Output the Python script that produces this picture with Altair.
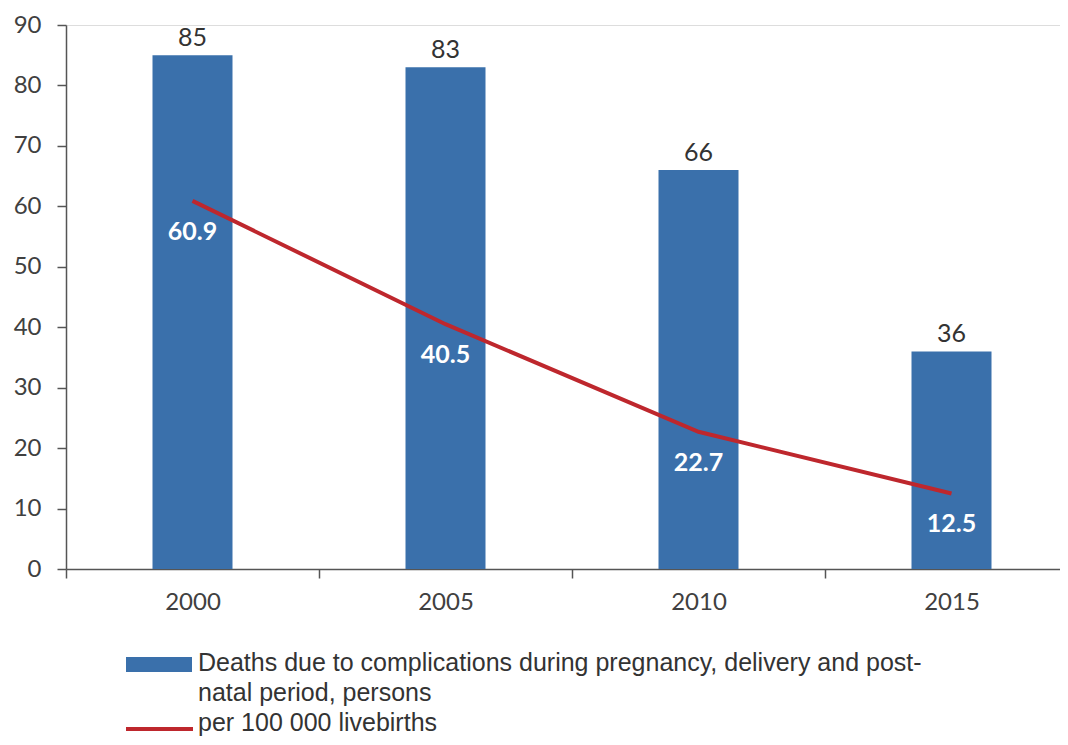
import altair as alt
import pandas as pd

years = ["2000", "2005", "2010", "2015"]
deaths = [85, 83, 66, 36]
rate = [60.9, 40.5, 22.7, 12.5]
legend_bar_label = "Deaths due to complications during pregnancy, delivery and post-\nnatal period, persons"
legend_line_label = "per 100 000 livebirths"

df = pd.DataFrame({
    "year": years,
    "pos": [i + 0.5 for i in range(len(years))],
    "deaths": deaths,
    "rate": rate,
})

FONT = "Lato"
LEG_FONT = "Liberation Sans"
W, H = 994, 544
BAND = 253.0
xmax = W / BAND

label_expr = (
    "(datum.value % 1) == 0.5 ? " + str(years) + "[floor(datum.value)] : ''"
)

x = alt.X(
    "pos:Q",
    scale=alt.Scale(domain=[0, xmax], nice=False, zero=False, padding=0),
    axis=alt.Axis(
        values=[0, 0.5, 1, 1.5, 2, 2.5, 3, 3.5],
        labelExpr=label_expr,
        tickOpacity={"condition": {"test": "(datum.value % 1) == 0", "value": 1}, "value": 0},
        tickSize=9,
        tickColor="#555555",
        tickWidth=1.5,
        domainColor="#555555",
        domainWidth=1.5,
        labelFont=FONT,
        labelFontSize=24,
        labelColor="#404040",
        labelPadding=12,
        grid=False,
        title=None,
    ),
)
y = alt.Y(
    "deaths:Q",
    scale=alt.Scale(domain=[0, 90], nice=False, padding=0),
    axis=alt.Axis(
        values=list(range(0, 91, 10)),
        tickSize=9,
        tickColor="#555555",
        tickWidth=1.5,
        domainColor="#555555",
        domainWidth=1.5,
        labelFont=FONT,
        labelFontSize=24,
        labelColor="#404040",
        labelPadding=16,
        grid=False,
        title=None,
    ),
)

base = alt.Chart(df)

bars = base.mark_bar(color="#3A70AB", size=80).encode(x=x, y=y)
bar_labels = base.mark_text(
    baseline="bottom", dy=-4, font=FONT, fontSize=25, color="#333333"
).encode(x="pos:Q", y="deaths:Q", text="deaths:Q")

line = base.mark_line(color="#BE272D", strokeWidth=4).encode(x="pos:Q", y="rate:Q")
line_labels = base.mark_text(
    baseline="middle", dy=31, font=FONT, fontSize=25, fontWeight="bold", color="white"
).encode(x="pos:Q", y="rate:Q", text=alt.Text("rate:Q", format=".1f"))

leg_df = pd.DataFrame({"label": [legend_bar_label, legend_line_label]})
leg = alt.Chart(leg_df)
leg_rect = leg.transform_filter(alt.datum.label == legend_bar_label).mark_rect(color="#3A70AB").encode(
    x=alt.value(60), x2=alt.value(126), y=alt.value(632), y2=alt.value(647)
)
leg_rule = leg.transform_filter(alt.datum.label == legend_line_label).mark_rule(
    color="#BE272D", strokeWidth=4
).encode(x=alt.value(60), x2=alt.value(127), y=alt.value(704))
leg_text1 = leg.transform_filter(alt.datum.label == legend_bar_label).mark_text(
    align="left", baseline="alphabetic", font=LEG_FONT, fontSize=25, color="#333333",
    lineBreak="\n", lineHeight=30
).encode(x=alt.value(132), y=alt.value(646), text="label:N")
leg_text2 = leg.transform_filter(alt.datum.label == legend_line_label).mark_text(
    align="left", baseline="alphabetic", font=LEG_FONT, fontSize=25, color="#333333"
).encode(x=alt.value(132), y=alt.value(706), text="label:N")

chart = alt.layer(
    bars, bar_labels, line, line_labels, leg_rect, leg_rule, leg_text1, leg_text2
).properties(
    width=W, height=H,
    autosize=alt.AutoSizeParams(type="none"),
    padding={"left": 58, "top": 17, "right": 0, "bottom": 168},
).configure_view(stroke=None).configure(background="white")

chart.save("out.html", embed_options={"renderer": "svg", "actions": False})
